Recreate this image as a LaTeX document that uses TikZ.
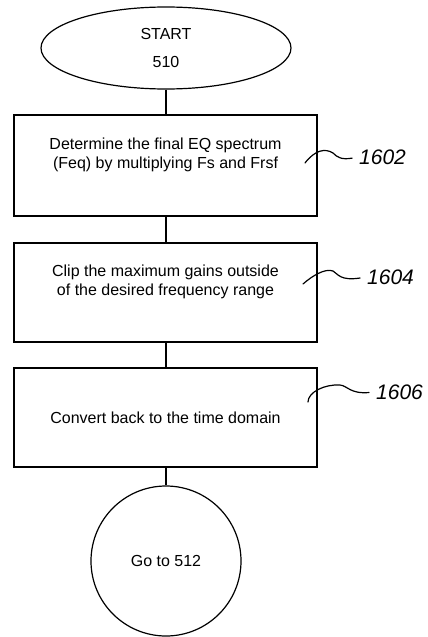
\documentclass[tikz,border=0pt]{standalone}
\usepackage{fontspec}
\setmainfont{Liberation Sans}
\usetikzlibrary{shapes.geometric}
\begin{document}
\begin{tikzpicture}[x=1pt,y=-1pt,
  every node/.style={font=\fontsize{16}{18.5}\selectfont},
  stepbox/.style={draw,line width=1.3pt,minimum width=303pt,minimum height=101pt,align=center,inner sep=0pt},
  conn/.style={line width=1.2pt},
  refl/.style={font=\fontsize{21}{22}\selectfont\itshape,anchor=west,inner sep=0pt},
  squig/.style={line width=1.2pt,line cap=round,shorten >=7pt}]
\useasboundingbox (0,0) rectangle (428,637);
\node[ellipse,draw,line width=1.2pt,minimum width=250pt,minimum height=82pt,inner sep=0pt,align=center] (start) at (166,48) {START\\[10pt]510};
\node[stepbox] (b1) at (165.5,165.5) {Determine the final EQ spectrum\\(Feq) by multiplying Fs and Frsf\\[6pt]};
\node[stepbox,minimum height=99pt] (b2) at (165.5,292.5) {Clip the maximum gains outside\\of the desired frequency range\\[6pt]};
\node[stepbox,minimum height=99pt] (b3) at (165.5,417.5) {Convert back to the time domain};
\node[circle,draw,line width=1.2pt,minimum size=150pt,inner sep=0pt] (end) at (166,561) {Go to 512};
\draw[conn] (start.south) -- (start.south |- b1.north);
\draw[conn] (start.south |- b1.south) -- (start.south |- b2.north);
\draw[conn] (start.south |- b2.south) -- (start.south |- b3.north);
\draw[conn] (start.south |- b3.south) -- (end.north);
\node[refl] (l1) at (359,157) {1602};
\node[refl] (l2) at (367,277) {1604};
\node[refl] (l3) at (376,392) {1606};
\coordinate (s1) at (305,163);
\coordinate (s2) at (303,284);
\coordinate (s3) at (308,402);
\draw[squig] (s1) .. controls (315,150) and (325,148) .. (333,153) .. controls (337,157) and (341,160) .. (l1.west);
\draw[squig] (s2) .. controls (312,276) and (325,268) .. (333,271) .. controls (338,274) and (340,281) .. (l2.west);
\draw[squig] (s3) .. controls (308,392) and (325,384) .. (340,385) .. controls (348,386) and (350,394) .. (l3.west);
\end{tikzpicture}
\end{document}
